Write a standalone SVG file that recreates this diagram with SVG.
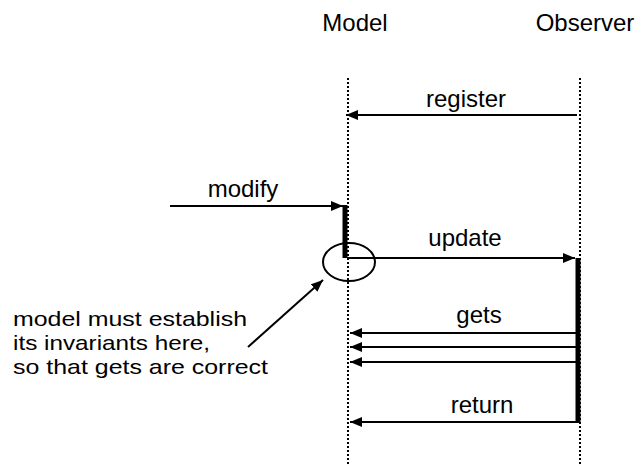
<svg xmlns="http://www.w3.org/2000/svg" width="640" height="464" viewBox="0 0 640 464">
<defs>
<marker id="ah" markerUnits="userSpaceOnUse" markerWidth="14" markerHeight="12" refX="12" refY="5" orient="auto">
<path d="M0,0 L12,5 L0,10 Z" fill="#000"/>
</marker>
<style>
text{font-family:"Liberation Sans",Arial,sans-serif;font-size:24px;fill:#000}
.note{font-size:21px}
.life{stroke:#000;stroke-width:2;stroke-dasharray:2 2;fill:none}
.msg{stroke:#000;stroke-width:2;fill:none;marker-end:url(#ah)}
.act{stroke:#000;stroke-width:5;fill:none}
</style>
</defs>
<rect width="640" height="464" fill="#fff"/>
<g id="model">
<text x="355" y="31" text-anchor="middle">Model</text>
<line class="life" x1="348" y1="78" x2="348" y2="464"/>
<line class="act" x1="345" y1="205" x2="345" y2="258"/>
</g>
<g id="observer">
<text x="585" y="31" text-anchor="middle">Observer</text>
<line class="life" x1="580" y1="78" x2="580" y2="464"/>
<line class="act" x1="578" y1="258" x2="578" y2="423"/>
</g>
<g id="note">
<ellipse cx="349" cy="262" rx="26" ry="19" fill="none" stroke="#000" stroke-width="2"/>
<text class="note" x="13" y="326" textLength="234" lengthAdjust="spacingAndGlyphs">model must establish</text>
<text class="note" x="13" y="350" textLength="197" lengthAdjust="spacingAndGlyphs">its invariants here,</text>
<text class="note" x="13" y="374" textLength="255" lengthAdjust="spacingAndGlyphs">so that gets are correct</text>
</g>
<g id="connectors">
<line class="msg" x1="577" y1="115" x2="346" y2="115"/>
<text x="466" y="107" text-anchor="middle">register</text>
<line class="msg" x1="170" y1="206" x2="343" y2="206"/>
<text x="243" y="197" text-anchor="middle">modify</text>
<line class="msg" x1="347" y1="258" x2="575" y2="258"/>
<text x="465" y="246" text-anchor="middle">update</text>
<line class="msg" x1="576" y1="333" x2="350" y2="333"/>
<line class="msg" x1="576" y1="347" x2="350" y2="347"/>
<line class="msg" x1="576" y1="362" x2="350" y2="362"/>
<text x="479" y="323" text-anchor="middle">gets</text>
<line class="msg" x1="576" y1="422" x2="350" y2="422"/>
<text x="482" y="413" text-anchor="middle">return</text>
<line class="msg" x1="248" y1="347" x2="323" y2="280"/>
</g>
</svg>
